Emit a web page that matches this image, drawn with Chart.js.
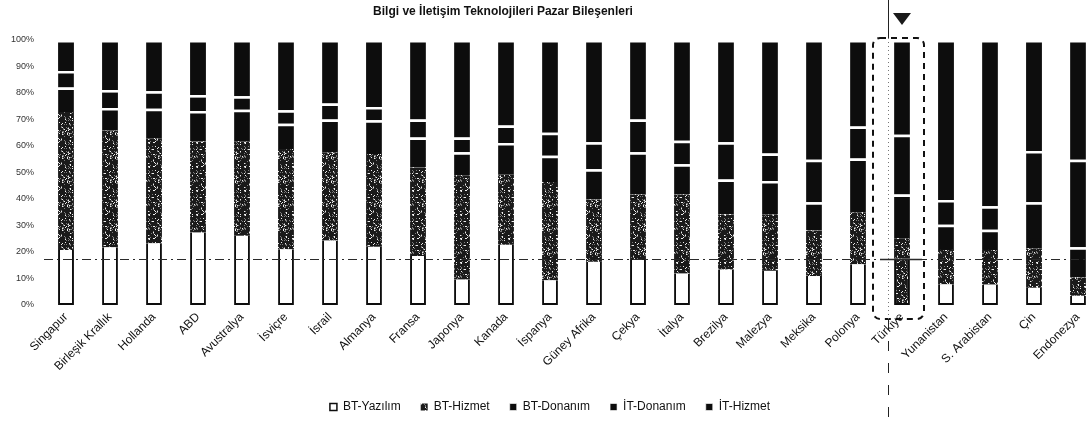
<!DOCTYPE html>
<html lang="tr">
<head>
<meta charset="utf-8">
<title>Bilgi ve İletişim Teknolojileri Pazar Bileşenleri</title>
<script src="https://cdn.jsdelivr.net/npm/chart.js@4/dist/chart.umd.min.js"></script>
<style>
  html, body { margin: 0; padding: 0; background: #fff; overflow: hidden; }
  #wrap { position: relative; width: 1100px; height: 427px; }
  #baslik {
    position: absolute; top: 4px; left: 0; width: 1006px;
    text-align: center; font: bold 12px "Liberation Sans", Arial, sans-serif; color: #111;
  }
  canvas { display: block; }
</style>
</head>
<body>
<div id="wrap">
  <div id="baslik">Bilgi ve İletişim Teknolojileri Pazar Bileşenleri</div>
  <canvas id="pazar-chart" width="1100" height="427"></canvas>
</div>
<script>
// Ülkeler ve pazar bileşenlerinin payları (%)
const countries = ['Singapur', 'Birleşik Krallık', 'Hollanda', 'ABD', 'Avustralya', 'İsviçre', 'İsrail',
  'Almanya', 'Fransa', 'Japonya', 'Kanada', 'İspanya', 'Güney Afrika', 'Çekya', 'İtalya', 'Brezilya',
  'Malezya', 'Meksika', 'Polonya', 'Türkiye', 'Yunanistan', 'S. Arabistan', 'Çin', 'Endonezya'];

const btYazilim = [20.8, 21.8, 23.3, 27.4, 26.1, 21.0, 24.3, 22.0, 18.5, 9.6, 22.7, 9.3, 16.3, 17.0, 11.9, 13.4, 12.9, 10.9, 15.4, 17.5, 7.8, 7.7, 6.5, 3.5];
const btHizmet = [52.0, 44.0, 39.6, 34.3, 35.7, 37.9, 33.3, 35.0, 33.4, 39.4, 26.6, 37.1, 23.5, 24.7, 29.8, 20.8, 21.2, 17.2, 19.6, 7.7, 13.0, 13.1, 14.9, 6.9];
const btDonanim = [9.3, 8.5, 11.2, 11.5, 11.9, 9.5, 12.4, 12.7, 11.3, 8.6, 11.8, 9.9, 11.4, 15.9, 11.4, 13.2, 12.7, 10.7, 20.3, 16.5, 9.5, 7.6, 17.4, 11.4];
const itDonanim = [6.2, 6.8, 6.6, 6.0, 5.1, 5.1, 6.0, 5.0, 6.8, 5.6, 6.6, 8.7, 10.2, 12.4, 8.9, 14.0, 10.4, 16.0, 12.1, 22.5, 9.3, 8.9, 19.3, 33.0];
const itHizmet = [11.7, 18.9, 19.3, 20.8, 21.2, 26.5, 24.0, 25.3, 30.0, 36.8, 32.3, 35.0, 38.6, 30.0, 38.0, 38.6, 42.8, 45.2, 32.6, 35.8, 60.4, 62.7, 41.9, 45.2];

const seriesNames = ['BT-Yazılım', 'BT-Hizmet', 'BT-Donanım', 'İT-Donanım', 'İT-Hizmet'];
const yTicks = [0, 10, 20, 30, 40, 50, 60, 70, 80, 90, 100];
const highlighted = 'Türkiye';

const FONT = '"Liberation Sans", Arial, sans-serif';
const BLACK = '#0d0d0d';

// Hizmet dilimleri için benekli doku (sabit hash ile, her çizimde aynı)
function makeSpeckle() {
    const size = 24;
    const c = document.createElement('canvas');
    c.width = c.height = size;
    const g = c.getContext('2d');
    g.fillStyle = '#1a1a1a';
    g.fillRect(0, 0, size, size);
    for (let y = 0; y < size; y++) {
        for (let x = 0; x < size; x++) {
            let h = Math.imul(x, 374761393) + Math.imul(y, 668265263);
            h = Math.imul(h ^ (h >>> 13), 1274126177);
            h = (h ^ (h >>> 16)) >>> 0;
            const r = h % 100;
            if (r < 8) g.fillStyle = '#eeeeee';
            else if (r < 20) g.fillStyle = '#7a7a7a';
            else continue;
            g.fillRect(x, y, 1, 1);
        }
    }
    return g.createPattern(c, 'repeat');
}
const speckle = makeSpeckle();

const hi = countries.indexOf(highlighted);

// Türkiye sütununu işaretleyen çizgiler, ok ve kesikli çerçeve
const turkeyMarks = {
    id: 'turkeyMarks',
    afterDatasetsDraw(chart) {
        const { ctx, chartArea, scales: { x, y } } = chart;
        const cx = x.getPixelForValue(hi);
        const refY = Math.round(y.getPixelForValue(btYazilim[hi])) + 0.5;
        ctx.save();
        // yatay referans çizgisi
        ctx.strokeStyle = '#2a2a2a';
        ctx.lineWidth = 1;
        ctx.setLineDash([9, 4, 2, 4]);
        ctx.beginPath();
        ctx.moveTo(chartArea.left, refY);
        ctx.lineTo(chartArea.right, refY);
        ctx.stroke();
        ctx.setLineDash([]);
        ctx.lineWidth = 1.5;
        ctx.beginPath();
        ctx.moveTo(cx - 22, refY);
        ctx.lineTo(cx + 20, refY);
        ctx.stroke();

        // kesikli yuvarlak çerçeve
        const top = y.getPixelForValue(100) - 2;
        const bottom = y.getPixelForValue(0) + 14;
        ctx.strokeStyle = '#111';
        ctx.lineWidth = 2;
        ctx.setLineDash([6, 5]);
        ctx.beginPath();
        ctx.roundRect(cx - 29, top, 51, bottom - top, 7);
        ctx.stroke();
        ctx.restore();
    },
    afterDraw(chart) {
        const { ctx, scales: { x, y } } = chart;
        const cx = x.getPixelForValue(hi);
        const lx = Math.round(cx - 14) + 0.5;
        const top = y.getPixelForValue(100) - 2;
        const bottom = y.getPixelForValue(0) + 14;
        ctx.save();
        ctx.strokeStyle = '#222';
        ctx.lineWidth = 1;
        ctx.beginPath();
        ctx.moveTo(lx, 0);
        ctx.lineTo(lx, top);
        ctx.stroke();
        ctx.strokeStyle = '#777';
        ctx.setLineDash([1, 3]);
        ctx.beginPath();
        ctx.moveTo(lx, top);
        ctx.lineTo(lx, bottom);
        ctx.stroke();
        ctx.strokeStyle = '#222';
        ctx.setLineDash([10, 12]);
        ctx.beginPath();
        ctx.moveTo(lx, bottom);
        ctx.lineTo(lx, chart.height);
        ctx.stroke();
        // aşağı bakan ok
        ctx.setLineDash([]);
        ctx.fillStyle = '#1a1a1a';
        ctx.beginPath();
        ctx.moveTo(cx - 9, 13);
        ctx.lineTo(cx + 9, 13);
        ctx.lineTo(cx, 25);
        ctx.closePath();
        ctx.fill();
        ctx.restore();
    }
};

const whiteTop = { top: 2.5, bottom: 0, left: 0, right: 0 };

const datasets = [
    {
        label: seriesNames[0],
        data: btYazilim,
        backgroundColor: countries.map((c, i) => i === hi ? speckle : '#ffffff'),
        borderColor: BLACK,
        borderWidth: { top: 0, bottom: 2, left: 2, right: 2 },
        borderSkipped: false
    },
    { label: seriesNames[1], data: btHizmet, backgroundColor: speckle, borderColor: '#ffffff', borderWidth: { top: 0, bottom: 0, left: 0, right: 0 } },
    { label: seriesNames[2], data: btDonanim, backgroundColor: BLACK, borderColor: '#ffffff', borderWidth: whiteTop },
    { label: seriesNames[3], data: itDonanim, backgroundColor: BLACK, borderColor: '#ffffff', borderWidth: whiteTop },
    { label: seriesNames[4], data: itHizmet, backgroundColor: BLACK, borderColor: '#ffffff', borderWidth: whiteTop }
];

new Chart(document.getElementById('pazar-chart'), {
    type: 'bar',
    data: { labels: countries, datasets },
    options: {
        responsive: false,
        animation: false,
        devicePixelRatio: 1,
        datasets: { bar: { categoryPercentage: 1, barPercentage: 0.36 } },
        layout: { padding: { top: 40, right: 0, bottom: 4, left: 0 } },
        plugins: {
            tooltip: { enabled: false },
            title: { display: false },
            legend: {
                position: 'bottom',
                labels: {
                    boxWidth: 7,
                    boxHeight: 7,
                    padding: 20,
                    color: '#111',
                    font: { family: FONT, size: 12 }
                }
            }
        },
        scales: {
            x: {
                stacked: true,
                grid: { display: false, drawTicks: false },
                border: { display: false },
                ticks: {
                    autoSkip: false,
                    maxRotation: 45,
                    minRotation: 45,
                    padding: 5,
                    color: '#111',
                    font: { family: FONT, size: 12 }
                },
                afterFit(scale) { scale.height = 76; }
            },
            y: {
                stacked: true,
                min: 0,
                max: 100,
                afterBuildTicks(scale) { scale.ticks = yTicks.map(v => ({ value: v })); },
                grid: { display: false, drawTicks: false },
                border: { display: false },
                ticks: {
                    padding: 10,
                    color: '#333',
                    font: { family: FONT, size: 9 },
                    callback: v => v + '%'
                },
                afterFit(scale) { scale.width = 44; }
            }
        }
    },
    plugins: [turkeyMarks]
});
</script>
</body>
</html>
